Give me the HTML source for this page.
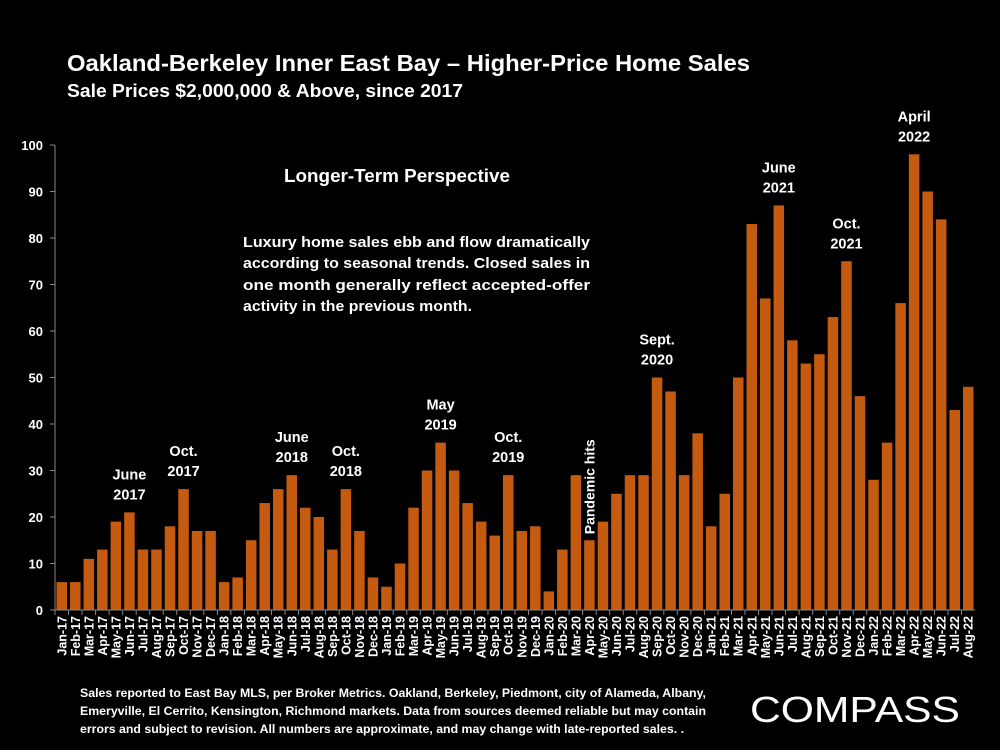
<!DOCTYPE html>
<html><head><meta charset="utf-8"><style>
body{margin:0;background:#000;width:1000px;height:750px;overflow:hidden;font-family:"Liberation Sans",sans-serif;color:#fff}
svg{position:absolute;left:0;top:0}
</style></head><body>
<svg width="1000" height="750">
<text x="67" y="71" font-size="23" font-weight="bold" fill="#fff" textLength="683" lengthAdjust="spacingAndGlyphs">Oakland-Berkeley Inner East Bay – Higher-Price Home Sales</text>
<text x="67" y="97" font-size="18" font-weight="bold" fill="#fff" textLength="396" lengthAdjust="spacingAndGlyphs">Sale Prices $2,000,000 &amp; Above, since 2017</text>
<g id="yaxis"></g>
<g id="bars"></g>
<g id="xaxis"></g>
<g id="ann"></g>
<text x="397" y="182" font-size="18" font-weight="bold" fill="#fff" text-anchor="middle" textLength="226" lengthAdjust="spacingAndGlyphs">Longer-Term Perspective</text>
<g font-size="15" font-weight="bold" fill="#fff">
<text x="243" y="247" textLength="347" lengthAdjust="spacingAndGlyphs">Luxury home sales ebb and flow dramatically</text>
<text x="243" y="268" textLength="347" lengthAdjust="spacingAndGlyphs">according to seasonal trends. Closed sales in</text>
<text x="243" y="290" textLength="347" lengthAdjust="spacingAndGlyphs">one month generally reflect accepted-offer</text>
<text x="243" y="311" textLength="229" lengthAdjust="spacingAndGlyphs">activity in the previous month.</text>
</g>
<g font-size="12" font-weight="bold" fill="#fff">
<text x="80" y="697" textLength="626" lengthAdjust="spacingAndGlyphs">Sales reported to East Bay MLS, per Broker Metrics. Oakland, Berkeley, Piedmont, city of Alameda, Albany,</text>
<text x="80" y="715" textLength="626" lengthAdjust="spacingAndGlyphs">Emeryville, El Cerrito, Kensington, Richmond markets. Data from sources deemed reliable but may contain</text>
<text x="80" y="733" textLength="604" lengthAdjust="spacingAndGlyphs">errors and subject to revision. All numbers are approximate, and may change with late-reported sales. .</text>
</g>
<text x="750" y="722" font-size="36" fill="#fff" textLength="210" lengthAdjust="spacingAndGlyphs">COMPASS</text>
</svg>
<script>
const months=["Jan","Feb","Mar","Apr","May","Jun","Jul","Aug","Sep","Oct","Nov","Dec"];
const categories=[];
for(let y=17;y<=22;y++)for(let m=0;m<12;m++){if(y===22&&m>7)break;categories.push(months[m]+"-"+y);}
const values=[6,6,11,13,19,21,13,13,18,26,17,17,6,7,15,23,26,29,22,20,13,26,17,7,5,10,22,30,36,30,23,19,16,29,17,18,4,13,29,15,19,25,29,29,50,47,29,38,18,25,50,83,67,87,58,53,55,63,75,46,28,36,66,98,90,84,43,48];
const yTicks=[0,10,20,30,40,50,60,70,80,90,100];
const annLabels=[["Jun-17","June","2017"],["Oct-17","Oct.","2017"],["Jun-18","June","2018"],["Oct-18","Oct.","2018"],["May-19","May","2019"],["Oct-19","Oct.","2019"],["Sep-20","Sept.","2020"],["Jun-21","June","2021"],["Nov-21","Oct.","2021"],["Apr-22","April","2022"]];
const NS="http://www.w3.org/2000/svg";
const x0=55,x1=975,y0=610,yTop=145;
const slot=(x1-x0)/categories.length;
const X=i=>x0+i*slot;
const Y=v=>y0-(v/100)*(y0-yTop);
function mk(tag,attrs,parent){const e=document.createElementNS(NS,tag);for(const k in attrs)e.setAttribute(k,attrs[k]);document.getElementById(parent).appendChild(e);return e;}
let ax=mk("line",{x1:x0,y1:yTop,x2:x0,y2:y0,stroke:"#888","stroke-width":1},"yaxis");


yTicks.forEach(t=>{
 const tx=mk("text",{x:x0-12,y:Y(t)+5,"font-size":13,"font-weight":"bold",fill:"#fff","text-anchor":"end"},"yaxis");
 tx.textContent=t;
 
 
 const tk=mk("line",{x1:x0-5,y1:Y(t),x2:x0,y2:Y(t),stroke:"#888"},"yaxis");
 
 
});
let xl=mk("line",{x1:x0,y1:y0,x2:x1,y2:y0,stroke:"#888"},"xaxis");


values.forEach((v,i)=>{
 const r=mk("rect",{x:X(i)+1.5,y:Y(v),width:slot-3,height:y0-Y(v),fill:"#c55a11"},"bars");
 
 
 const cx=X(i)+slot/2+4.5;
 const t=mk("text",{x:cx,y:y0+6,"font-size":12.5,"font-weight":"bold",fill:"#fff","text-anchor":"end",transform:`rotate(-90 ${cx} ${y0+6})`},"xaxis");
 t.textContent=categories[i];
 
 
 const tk=mk("line",{x1:X(i),y1:y0,x2:X(i),y2:y0+5,stroke:"#888"},"xaxis");
 
 
});
annLabels.forEach(a=>{
 const i=categories.indexOf(a[0]);
 const cx=X(i)+slot/2, top=Y(values[i])-33;
 [a[1],a[2]].forEach((s,k)=>{
  const t=mk("text",{x:cx,y:top+k*20,"font-size":14.5,"font-weight":"bold",fill:"#fff","text-anchor":"middle"},"ann");
  t.textContent=s;
  
  
 });
});
const pi=categories.indexOf("Apr-20");
const px=X(pi)+slot/2+5, py=Y(values[pi])-6;
const pt=mk("text",{x:px,y:py,"font-size":14,"font-weight":"bold",fill:"#fff",transform:`rotate(-90 ${px} ${py})`},"ann");
pt.textContent="Pandemic hits";


</script>
</body></html>
